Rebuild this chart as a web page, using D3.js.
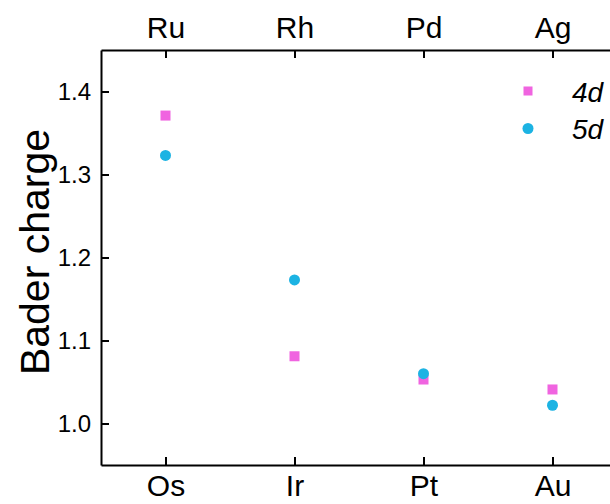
<!DOCTYPE html>
<html>
<head>
<meta charset="utf-8">
<script src="https://cdn.jsdelivr.net/npm/d3@7"></script>
<style>
  body { margin: 0; background: #fff; }
  svg, svg text { font-family: Arial, "Liberation Sans", sans-serif; }
</style>
</head>
<body>
<div id="chart"></div>
<script>
var width = 610, height = 504;
var margin = { top: 50, right: -7, bottom: 39, left: 101 };

// data
var bottomLabels = ["Os", "Ir", "Pt", "Au"];   // 5d
var topLabels = ["Ru", "Rh", "Pd", "Ag"];      // 4d
var charge4d = [1.371, 1.081, 1.053, 1.041];
var charge5d = [1.323, 1.173, 1.060, 1.022];
var yTicks = [1.0, 1.1, 1.2, 1.3, 1.4];

var pink = "#f064e0", cyan = "#1cb3e3";

var svg = d3.select("#chart").append("svg")
    .attr("width", width)
    .attr("height", height);

var x = d3.scaleLinear()
    .domain([0.5, 4.5])
    .range([margin.left, width - margin.right]);

var y = d3.scaleLinear()
    .domain([0.95, 1.45])
    .range([height - margin.bottom, margin.top]);

var idx = [1, 2, 3, 4];

// axes, ticks pointing inward
var bottomAxis = svg.append("g")
    .attr("transform", "translate(0," + (height - margin.bottom) + ")")
    .call(d3.axisBottom(x).tickValues(idx).tickFormat(function(d) { return bottomLabels[d - 1]; })
        .tickSizeInner(-8).tickSizeOuter(0).tickPadding(10));

var topAxis = svg.append("g")
    .attr("transform", "translate(0," + margin.top + ")")
    .call(d3.axisTop(x).tickValues(idx).tickFormat(function(d) { return topLabels[d - 1]; })
        .tickSizeInner(-8).tickSizeOuter(0).tickPadding(12));

var leftAxis = svg.append("g")
    .attr("transform", "translate(" + margin.left + ",0)")
    .call(d3.axisLeft(y).tickValues(yTicks).tickFormat(d3.format(".1f"))
        .tickSizeInner(-8).tickSizeOuter(0).tickPadding(10));

[bottomAxis, topAxis, leftAxis].forEach(function(g) {
    g.attr("font-family", null).attr("font-size", null);
    g.select(".domain").attr("stroke", "#000").attr("stroke-width", 2);
    g.selectAll(".tick line").attr("stroke", "#000").attr("stroke-width", 2);
    g.selectAll("text").attr("fill", "#000");
});
bottomAxis.selectAll("text").style("font-size", "30px");
topAxis.selectAll("text").style("font-size", "30px");
leftAxis.selectAll("text").style("font-size", "24px");

// y title
svg.append("text")
    .attr("transform", "translate(49,252)rotate(-90)")
    .attr("text-anchor", "middle")
    .style("font-size", "41px")
    .attr("fill", "#000")
    .text("Bader charge");

// 4d squares
var sq = 10;
svg.selectAll(".p4d")
    .data(charge4d)
    .enter().append("rect")
    .attr("class", "p4d")
    .attr("x", function(d, i) { return x(idx[i]) - sq / 2; })
    .attr("y", function(d) { return y(d) - sq / 2; })
    .attr("width", sq)
    .attr("height", sq)
    .attr("fill", pink);

// 5d circles
svg.selectAll(".p5d")
    .data(charge5d)
    .enter().append("circle")
    .attr("class", "p5d")
    .attr("cx", function(d, i) { return x(idx[i]); })
    .attr("cy", function(d) { return y(d); })
    .attr("r", 5.5)
    .attr("fill", cyan);

// legend
var legend = svg.append("g").attr("transform", "translate(528,91)");
legend.append("rect")
    .attr("x", -4.5).attr("y", -4.5).attr("width", 9).attr("height", 9)
    .attr("fill", pink);
legend.append("circle")
    .attr("cx", 0).attr("cy", 37.5).attr("r", 5.5)
    .attr("fill", cyan);
legend.append("text")
    .attr("x", 44).attr("y", 11)
    .style("font-size", "28px").style("font-style", "italic")
    .text("4d");
legend.append("text")
    .attr("x", 44).attr("y", 48)
    .style("font-size", "28px").style("font-style", "italic")
    .text("5d");
</script>
</body>
</html>
